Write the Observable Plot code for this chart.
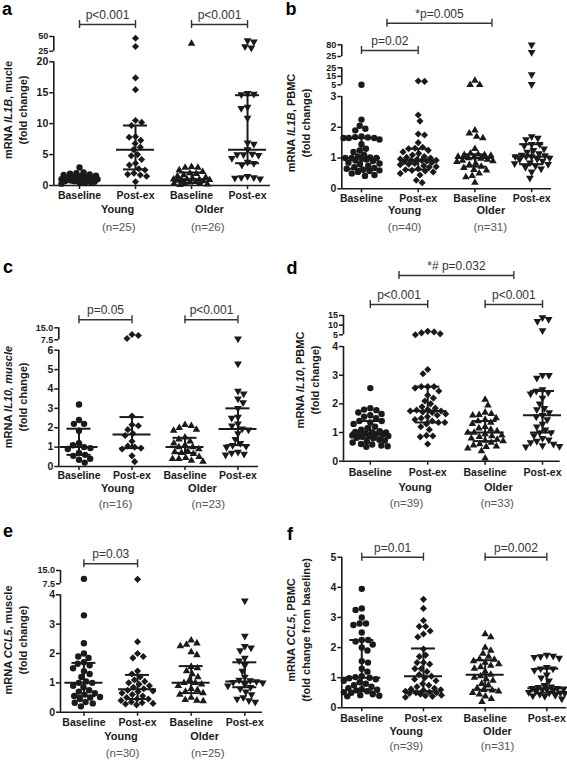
<!DOCTYPE html>
<html><head><meta charset="utf-8">
<script src="https://cdn.jsdelivr.net/npm/d3@7"></script>
<script src="https://cdn.jsdelivr.net/npm/@observablehq/plot@0.6"></script>
<style>
body{margin:0;background:#fff;}
#chart{position:relative;width:567px;height:764px;background:#fff;overflow:hidden;font-family:"Liberation Sans",Arial,sans-serif;}
#chart [aria-label="y-axis tick"], #chart [aria-label="x-axis tick"]{stroke-width:1.5px;}
#chart [aria-label="x-axis tick label"]{font-size:10.5px;}
#chart [aria-label="y-axis tick label"]{font-size:10.5px;}
</style></head><body><div id="chart"></div>
<script>
// ---------- shared labels ----------
const groupLabels = ["Baseline", "Post-ex", "Baseline", "Post-ex"];
const ageLabels = ["Young", "Older"];

// ---------- panel a : IL1B muscle ----------
const aYoungBase = [0.3,0.4,0.5,0.5,0.6,0.7,0.7,0.8,0.8,0.9,1.0,1.0,1.0,1.1,1.2,1.3,1.4,1.5,1.6,1.7,1.8,1.9,2.0,2.1,2.9];
const aYoungPost = [0.6,1.5,1.7,1.8,2.0,2.5,2.7,3.3,3.6,4.2,4.8,5.0,5.8,6.2,6.8,7.3,7.8,7.9,9.7,10.2,10.5,15.5,17.4,33,47];
const aOlderBase = [0.1,0.2,0.3,0.3,0.4,0.5,0.6,0.7,0.8,0.9,0.9,1.0,1.0,1.0,1.1,1.3,1.5,1.7,1.9,2.0,2.2,2.5,2.9,2.9,3.0,38];
const aOlderPost = [1.1,1.2,1.3,1.3,1.5,3.3,3.6,3.8,4.4,4.9,5.0,5.0,5.1,5.8,6.7,6.9,10.9,12.5,12.7,14.7,14.8,14.9,31,33,41,43];
const aMedian = [1.0, 5.8, 1.0, 5.8];
const aQ1 = [0.6, 2.6, 0.4, 3.6];
const aQ3 = [1.5, 9.7, 2.1, 14.6];
const aTicks = [0, 5, 10, 15, 20, 25, 50];
const aTickLabels = ["0", "5", "10", "15", "20", "25", "50"];
const aBrackets = [{from: 0, to: 1, label: "p<0.001"}, {from: 2, to: 3, label: "p<0.001"}];
const aN = ["(n=25)", "(n=26)"];
const aYLabel = [["mRNA ", false], ["IL1B", true], [", mucle", false]];

// ---------- panel b : IL1B PBMC ----------
const bYoungBase = [0.42,0.45,0.5,0.55,0.58,0.6,0.62,0.65,0.68,0.7,0.75,0.8,0.82,0.85,0.9,0.92,0.95,0.98,1.0,1.0,1.0,1.02,1.05,1.1,1.2,1.25,1.3,1.45,1.6,1.65,1.65,1.65,1.67,1.68,1.7,1.9,1.95,2.05,2.25,5.0];
const bYoungPost = [0.2,0.28,0.45,0.5,0.55,0.58,0.6,0.62,0.65,0.7,0.72,0.75,0.78,0.8,0.82,0.85,0.88,0.9,0.92,0.93,0.93,0.95,0.97,1.0,1.02,1.05,1.1,1.15,1.2,1.25,1.3,1.32,1.35,1.5,1.75,1.78,2.2,2.4,9,9.5];
const bOlderBase = [0.2,0.38,0.42,0.5,0.6,0.62,0.68,0.72,0.78,0.82,0.88,0.9,0.92,0.95,0.98,1.0,1.02,1.05,1.08,1.1,1.1,1.12,1.15,1.3,1.65,1.7,1.8,1.9,5,5,10];
const bOlderPost = [0.35,0.55,0.65,0.7,0.75,0.8,0.82,0.85,0.9,0.95,0.97,1.0,1.05,1.05,1.05,1.08,1.1,1.15,1.2,1.25,1.3,1.4,1.45,1.45,1.6,1.65,1.7,5.5,17,45,80];
const bMedian = [1.0, 0.93, 1.0, 1.05];
const bQ1 = [0.65, 0.62, 0.72, 0.8];
const bQ3 = [1.65, 1.3, 1.12, 1.45];
// 25.001 = start of the upper axis segment (the axis restarts at 25 after a break)
const bTicks = [0, 1, 2, 3, 5, 15, 25, 25.001, 80];
const bTickLabels = ["0", "1", "2", "3", "5", "15", "25", "25", "80"];
const bBrackets = [{from: 0, to: 1, label: "p=0.02"}, {from: 0.45, to: 2.3, label: "*p=0.005"}];
const bN = ["(n=40)", "(n=31)"];
const bYLabel = [["mRNA ", false], ["IL1B", true], [", PBMC", false]];

// ---------- panel c : IL10 muscle ----------
const cYoungBase = [0.2,0.35,0.4,0.55,0.6,0.7,0.9,0.95,1.0,1.1,1.2,1.85,2.2,2.2,2.4,3.2];
const cYoungPost = [0.25,0.55,0.9,0.95,1.0,1.05,1.3,1.6,1.7,1.9,2.1,2.15,2.6,8.3,10.2,10.8];
const cOlderBase = [0.25,0.3,0.4,0.4,0.45,0.5,0.65,0.7,0.75,0.8,0.9,1.0,1.0,1.1,1.2,1.3,1.4,1.5,1.85,1.9,2.0,2.1,2.15];
const cOlderPost = [0.6,0.65,0.7,0.75,1.0,1.05,1.1,1.2,1.4,1.7,1.9,1.95,2.1,2.2,2.5,2.55,3.0,3.3,3.5,3.75,3.9,5.3,8.1];
const cMedian = [1.0, 1.65, 1.0, 1.93];
const cQ1 = [0.6, 0.95, 0.7, 1.1];
const cQ3 = [1.95, 2.55, 1.48, 3.0];
const cTicks = [0, 1, 2, 3, 4, 5, 6, 7.5, 15];
const cTickLabels = ["0", "1", "2", "3", "4", "5", "6", "7.5", "15.0"];
const cBrackets = [{from: 0, to: 1, label: "p=0.05"}, {from: 2, to: 3, label: "p<0.001"}];
const cN = ["(n=16)", "(n=23)"];
const cYLabel = [["mRNA ", false], ["IL10, muscle", true]];

// ---------- panel d : IL10 PBMC ----------
const dYoungBase = [0.5,0.52,0.55,0.58,0.6,0.65,0.7,0.72,0.75,0.8,0.82,0.85,0.88,0.9,0.9,0.92,0.95,0.97,0.98,1.0,1.0,1.02,1.05,1.1,1.15,1.2,1.3,1.35,1.4,1.4,1.5,1.55,1.6,1.65,1.7,1.78,1.8,1.85,2.55];
const dYoungPost = [0.6,0.85,0.88,0.9,1.1,1.2,1.3,1.35,1.35,1.4,1.45,1.5,1.55,1.6,1.65,1.7,1.72,1.75,1.75,1.78,1.8,1.85,1.9,2.0,2.1,2.2,2.3,2.45,2.55,2.6,2.6,2.6,3.05,3.2,5.0,5.5,6.0,6.5,6.8];
const dOlderBase = [0.1,0.35,0.45,0.5,0.52,0.55,0.6,0.65,0.7,0.72,0.75,0.8,0.85,0.88,0.9,0.95,1.0,1.0,1.05,1.1,1.15,1.2,1.3,1.35,1.4,1.45,1.5,1.6,1.62,1.65,1.7,1.95,2.15];
const dOlderPost = [0.5,0.52,0.55,0.6,0.65,0.7,0.75,0.8,0.9,1.0,1.0,1.1,1.2,1.3,1.45,1.55,1.6,1.7,1.8,1.85,2.0,2.2,2.35,2.4,2.45,2.5,2.9,3.0,3.0,7.2,12,13,14];
const dMedian = [1.0, 1.75, 1.0, 1.6];
const dQ1 = [0.8, 1.35, 0.7, 1.0];
const dQ3 = [1.4, 2.6, 1.4, 2.45];
const dTicks = [0, 1, 2, 3, 4, 5, 10, 15];
const dTickLabels = ["0", "1", "2", "3", "4", "5", "10", "15"];
const dBrackets = [{from: 0, to: 1, label: "p<0.001"}, {from: 2, to: 3, label: "p<0.001"}, {from: 0.5, to: 2.5, label: "*# p=0.032"}];
const dN = ["(n=39)", "(n=33)"];
const dYLabel = [["mRNA ", false], ["IL10", true], [", PBMC", false]];

// ---------- panel e : CCL5 muscle ----------
const eYoungBase = [0.2,0.3,0.32,0.35,0.45,0.5,0.52,0.55,0.6,0.65,0.7,0.75,0.85,0.9,1.0,1.0,1.05,1.2,1.3,1.4,1.5,1.6,1.65,1.7,1.85,1.9,2.0,2.35,3.3,10.3];
const eYoungPost = [0.25,0.28,0.3,0.32,0.35,0.4,0.45,0.45,0.5,0.55,0.6,0.65,0.7,0.72,0.75,0.8,0.85,0.9,0.95,1.0,1.05,1.1,1.2,1.3,1.4,1.85,1.9,2.0,2.4,10.0];
const eOlderBase = [0.38,0.4,0.42,0.5,0.6,0.65,0.7,0.75,0.8,0.9,0.95,1.0,1.0,1.1,1.2,1.3,1.4,1.5,1.55,1.95,2.05,2.25,2.3,2.35,2.45];
const eOlderPost = [0.35,0.4,0.45,0.5,0.6,0.7,0.8,0.85,0.9,0.95,1.0,1.02,1.05,1.08,1.1,1.2,1.4,1.6,1.75,1.85,2.1,2.2,2.25,2.6,3.8];
const eMedian = [1.0, 0.78, 1.0, 1.05];
const eQ1 = [0.55, 0.45, 0.65, 0.85];
const eQ3 = [1.68, 1.27, 1.57, 1.7];
const eTicks = [0, 1, 2, 3, 4, 7.5, 15];
const eTickLabels = ["0", "1", "2", "3", "4", "7.5", "15.0"];
const eBrackets = [{from: 0, to: 1, label: "p=0.03"}];
const eN = ["(n=30)", "(n=25)"];
const eYLabel = [["mRNA ", false], ["CCL5", true], [", muscle", false]];

// ---------- panel f : CCL5 PBMC ----------
const fYoungBase = [0.38,0.4,0.42,0.45,0.5,0.52,0.55,0.58,0.6,0.62,0.65,0.7,0.75,0.8,0.85,0.9,0.95,0.98,1.0,1.02,1.05,1.2,1.3,1.5,1.55,1.9,2.0,2.1,2.2,2.25,2.25,2.5,2.75,2.8,2.8,3.0,3.25,3.3,3.95];
const fYoungPost = [0.35,0.38,0.4,0.42,0.45,0.48,0.5,0.5,0.52,0.55,0.58,0.6,0.62,0.65,0.7,0.75,0.8,0.9,0.95,1.0,1.05,1.1,1.2,1.3,1.3,1.45,1.5,1.5,1.7,1.75,1.95,2.35,2.45,2.55,2.7,2.7,2.9,3.3,3.6];
const fOlderBase = [0.2,0.3,0.38,0.45,0.5,0.55,0.58,0.6,0.65,0.75,0.8,0.9,0.95,1.0,1.05,1.1,1.2,1.3,1.35,1.4,1.45,1.5,1.55,1.6,1.62,1.7,1.8,1.9,2.0,2.35,2.45];
const fOlderPost = [0.3,0.38,0.4,0.42,0.45,0.48,0.5,0.5,0.52,0.55,0.58,0.6,0.62,0.63,0.65,0.65,0.68,0.7,0.75,0.9,1.0,1.1,1.25,1.3,1.3,1.35,1.65,1.68,1.7,1.72,1.75];
const fMedian = [1.0, 1.05, 1.1, 0.65];
const fQ1 = [0.55, 0.55, 0.6, 0.5];
const fQ3 = [2.25, 1.97, 1.58, 1.3];
const fTicks = [0, 1, 2, 3, 4, 5];
const fTickLabels = ["0", "1", "2", "3", "4", "5"];
const fBrackets = [{from: 0, to: 1, label: "p=0.01"}, {from: 2, to: 3, label: "p=0.002"}];
const fN = ["(n=39)", "(n=31)"];
const fYLabel = [["mRNA ", false], ["CCL5", true], [", PBMC", false]];

// ---------- layout (pixels, per panel) ----------
const layout = {
  a: {left:0, top:0, width:283, height:250, ml:53.3, mr:13, xDomain:[-0.459,3.41], yDomain:[0,20,25,50], yRange:[185,61.3,50.7,36], segs:[[0,20],[25,50]], bracketPx:[24,24], xPad:2, ageX:[0.68,2.32], nX:[0.70,2.29], ageDy:27, nDy:45, letter:[7,9], yl:[8,23,110], line2:"(fold change)"},
  b: {left:283, top:0, width:284, height:250, ml:58.3, mr:16, xDomain:[-0.347,3.35], yDomain:[0,3,5,25,25.001,80], yRange:[188.3,96,84.3,67.3,56,44.3], segs:[[0,3],[5,25],[25.001,80]], bracketPx:[50,22.7], xPad:2, ageX:[0.76,2.28], nX:[0.76,2.27], ageDy:25.5, nDy:42, letter:[8,9], yl:[8,23,123], line2:"(fold change)"},
  c: {left:0, top:250, width:283, height:262, ml:58.3, mr:25, xDomain:[-0.381,3.387], yDomain:[0,6,7.5,15], yRange:[216,99.7,89.3,77.3], segs:[[0,6],[7.5,15]], bracketPx:[69.3,69.3], xPad:1, ageX:[0.73,2.33], nX:[0.69,2.44], ageDy:25, nDy:41, letter:[8,17], yl:[8,23,147], line2:"(fold change)"},
  d: {left:283, top:250, width:284, height:262, ml:60, mr:7.3, xDomain:[-0.467,3.308], yDomain:[0,4,5,15], yRange:[210.7,96,84.3,65], segs:[[0,4],[5,15]], bracketPx:[54,54,25], xPad:3, ageX:[0.78,2.23], nX:[0.63,2.21], ageDy:29.3, nDy:46, letter:[9,18], yl:[16.7,31.7,130], line2:"(fold change)"},
  e: {left:0, top:512, width:283, height:252, ml:60, mr:21, xDomain:[-0.437,3.33], yDomain:[0,4,7.5,15], yRange:[199.7,82.3,71.3,58], segs:[[0,4],[7.5,15]], bracketPx:[51.3], xPad:2, ageX:[0.69,2.25], nX:[0.72,2.31], ageDy:27.6, nDy:44.3, letter:[8,19], yl:[8,23,128], line2:"(fold change)"},
  f: {left:283, top:512, width:284, height:252, ml:58.3, mr:0.7, xDomain:[-0.324,3.324], yDomain:[0,5], yRange:[195.3,44.7], segs:[[0,5]], bracketPx:[44.7,44.7], xPad:3, ageX:[0.72,2.2], nX:[0.72,2.2], ageDy:27, nDy:42, letter:[7,22], yl:[8.3,23.3,118], line2:"(fold change from baseline)"}
};

const panels = [
  {id:"a", series:[aYoungBase,aYoungPost,aOlderBase,aOlderPost], med:aMedian, q1:aQ1, q3:aQ3, ticks:aTicks, tickLabels:aTickLabels, brackets:aBrackets, n:aN, yLabel:aYLabel},
  {id:"b", series:[bYoungBase,bYoungPost,bOlderBase,bOlderPost], med:bMedian, q1:bQ1, q3:bQ3, ticks:bTicks, tickLabels:bTickLabels, brackets:bBrackets, n:bN, yLabel:bYLabel},
  {id:"c", series:[cYoungBase,cYoungPost,cOlderBase,cOlderPost], med:cMedian, q1:cQ1, q3:cQ3, ticks:cTicks, tickLabels:cTickLabels, brackets:cBrackets, n:cN, yLabel:cYLabel},
  {id:"d", series:[dYoungBase,dYoungPost,dOlderBase,dOlderPost], med:dMedian, q1:dQ1, q3:dQ3, ticks:dTicks, tickLabels:dTickLabels, brackets:dBrackets, n:dN, yLabel:dYLabel},
  {id:"e", series:[eYoungBase,eYoungPost,eOlderBase,eOlderPost], med:eMedian, q1:eQ1, q3:eQ3, ticks:eTicks, tickLabels:eTickLabels, brackets:eBrackets, n:eN, yLabel:eYLabel},
  {id:"f", series:[fYoungBase,fYoungPost,fOlderBase,fOlderPost], med:fMedian, q1:fQ1, q3:fQ3, ticks:fTicks, tickLabels:fTickLabels, brackets:fBrackets, n:fN, yLabel:fYLabel}
];

// inverted filled triangle symbol
const triangleDown = {
  draw(context, size) {
    const y = Math.sqrt(size / (Math.sqrt(3) * 3));
    context.moveTo(0, 2 * y);
    context.lineTo(-Math.sqrt(3) * y, -y);
    context.lineTo(Math.sqrt(3) * y, -y);
    context.closePath();
  }
};
const symbols = ["circle", "diamond2", "triangle", triangleDown];
const radii = [3.2, 3.2, 2.8, 2.9];
const ink = "#1a1a1a";

// beeswarm layout (pixel offsets from the group centre), kept inside +-maxHalf;
// where the column is full, points overlap at the least crowded spot (as in the original)
function swarm(yPix, diam, maxHalf) {
  const order = d3.range(yPix.length).sort((a, b) => yPix[a] - yPix[b]);
  const placed = [], off = new Array(yPix.length);
  let flip = 1;
  for (const i of order) {
    const y = yPix[i], iv = [];
    for (const p of placed) {
      const dy = Math.abs(p.y - y);
      if (dy < diam) { const w = Math.sqrt(diam * diam - dy * dy); iv.push([p.x - w, p.x + w]); }
    }
    const cands = [0];
    for (const [a, b] of iv) cands.push(a, b);
    cands.sort((a, b) => Math.abs(a) - Math.abs(b) || flip * (a - b));
    let x = null;
    for (const c of cands) {
      if (Math.abs(c) <= maxHalf && iv.every(([a, b]) => c <= a + 1e-6 || c >= b - 1e-6)) { x = c; break; }
    }
    if (x === null) {
      let best = -1;
      for (let s = -maxHalf; s <= maxHalf + 1e-9; s += 0.5) {
        let md = Infinity;
        for (const p of placed) md = Math.min(md, Math.hypot(p.x - s, p.y - y));
        if (md > best + 1e-9 || (Math.abs(md - best) < 1e-9 && Math.abs(s) < Math.abs(x))) { best = md; x = s; }
      }
    }
    flip = -flip;
    off[i] = x; placed.push({x, y});
  }
  return off;
}

const chart = document.getElementById("chart");
for (const p of panels) {
  const L = layout[p.id];
  const yS = d3.scaleLinear(L.yDomain, L.yRange);
  const pxPerUnit = (L.width - L.ml - L.mr) / (L.xDomain[1] - L.xDomain[0]);
  const pts = [];
  p.series.forEach((vals, g) => {
    const off = swarm(vals.map(v => yS(v)), 6.4, 18);
    vals.forEach((v, i) => pts.push({g, x: g + off[i] / pxPerUnit, v}));
  });
  const stats = p.med.map((m, g) => ({g, med: m, q1: p.q1[g], q3: p.q3[g]}));
  const br = p.brackets.map((b, i) => ({...b, level: yS.invert(L.bracketPx[i])}));
  const segs = L.segs.map(([lo, hi]) => ({lo, hi}));

  const marks = [
    Plot.ruleX(segs, {x: L.xDomain[0], y1: "lo", y2: "hi", stroke: ink, strokeWidth: 1.6}),
    Plot.ruleY([0], {x1: L.xDomain[0], x2: L.xDomain[1], stroke: ink, strokeWidth: 1.6}),
    ...[0, 1, 2, 3].map(g => Plot.dot(pts.filter(d => d.g === g), {x: "x", y: "v", symbol: symbols[g], r: radii[g], fill: ink, stroke: "none"})),
    Plot.ruleX(stats, {x: "g", y1: "q1", y2: "q3", stroke: ink, strokeWidth: 2}),
    Plot.ruleY(stats, {x1: "g", x2: "g", y: "med", insetLeft: -19, insetRight: -19, stroke: ink, strokeWidth: 2}),
    Plot.ruleY(stats, {x1: "g", x2: "g", y: "q1", insetLeft: -12, insetRight: -12, stroke: ink, strokeWidth: 2}),
    Plot.ruleY(stats, {x1: "g", x2: "g", y: "q3", insetLeft: -12, insetRight: -12, stroke: ink, strokeWidth: 2}),
    Plot.ruleY(br, {x1: "from", x2: "to", y: "level", stroke: "#333", strokeWidth: 1.4}),
    Plot.ruleX(br, {x: "from", y1: "level", y2: "level", insetTop: -4, insetBottom: -4, stroke: "#333", strokeWidth: 1.4}),
    Plot.ruleX(br, {x: "to", y1: "level", y2: "level", insetTop: -4, insetBottom: -4, stroke: "#333", strokeWidth: 1.4}),
    Plot.text(br, {x: d => (d.from + d.to) / 2, y: "level", text: "label", dy: -9.5, fontSize: 12, fontWeight: "normal", fill: "#333"}),
    Plot.text(ageLabels, {x: (d, i) => L.ageX[i], frameAnchor: "bottom", dy: L.ageDy, fontSize: 11, fontWeight: "bold", fill: ink}),
    Plot.text(p.n, {x: (d, i) => L.nX[i], frameAnchor: "bottom", dy: L.nDy, fontSize: 11.5, fontWeight: "normal", fill: "#555"})
  ];

  const plot = Plot.plot({
    width: L.width, height: L.height,
    marginLeft: L.ml, marginRight: L.mr, marginTop: 10, marginBottom: L.height - L.yRange[0],
    style: {background: "transparent", fontFamily: "'Liberation Sans', Arial, sans-serif", fontSize: "11px", fontWeight: "bold", color: ink, overflow: "visible"},
    x: {type: "linear", domain: L.xDomain, ticks: [0, 1, 2, 3], tickFormat: i => groupLabels[Math.round(i)], tickSize: 4, tickPadding: L.xPad, label: null},
    y: {type: "linear", domain: L.yDomain, range: L.yRange, ticks: p.ticks, tickFormat: d => p.tickLabels[p.ticks.indexOf(d)], tickSize: 4, tickPadding: 1.5, label: null},
    marks
  });
  const svg = plot.tagName.toLowerCase() === "svg" ? plot : plot.querySelector("svg");
  plot.style.position = "absolute";
  plot.style.left = L.left + "px";
  plot.style.top = L.top + "px";
  const sel = d3.select(svg);
  // the crowded labels on the compressed (broken) axis segments are set smaller, as in the original
  sel.selectAll('[aria-label="y-axis tick label"] text').each(function(_, i) {
    if (L.segs.length > 1 && p.ticks[i] > L.segs[0][1]) this.style.fontSize = "9px";
  });
  sel.append("text").attr("x", L.letter[0]).attr("y", L.letter[1]).attr("text-anchor", "middle")
    .attr("dominant-baseline", "central").attr("font-size", 18).attr("font-weight", "bold").attr("fill", "#000").text(p.id);
  const t1 = sel.append("text").attr("transform", `translate(${L.yl[0]},${L.yl[2]}) rotate(-90)`)
    .attr("text-anchor", "middle").attr("dominant-baseline", "central").attr("font-size", 11).attr("font-weight", "bold").attr("fill", ink);
  p.yLabel.forEach(([s, it]) => t1.append("tspan").attr("font-style", it ? "italic" : "normal").text(s));
  sel.append("text").attr("transform", `translate(${L.yl[1]},${L.yl[2]}) rotate(-90)`)
    .attr("text-anchor", "middle").attr("dominant-baseline", "central").attr("font-size", 11).attr("font-weight", "bold").attr("fill", ink).text(L.line2);
  chart.appendChild(plot);
}
</script></body></html>
